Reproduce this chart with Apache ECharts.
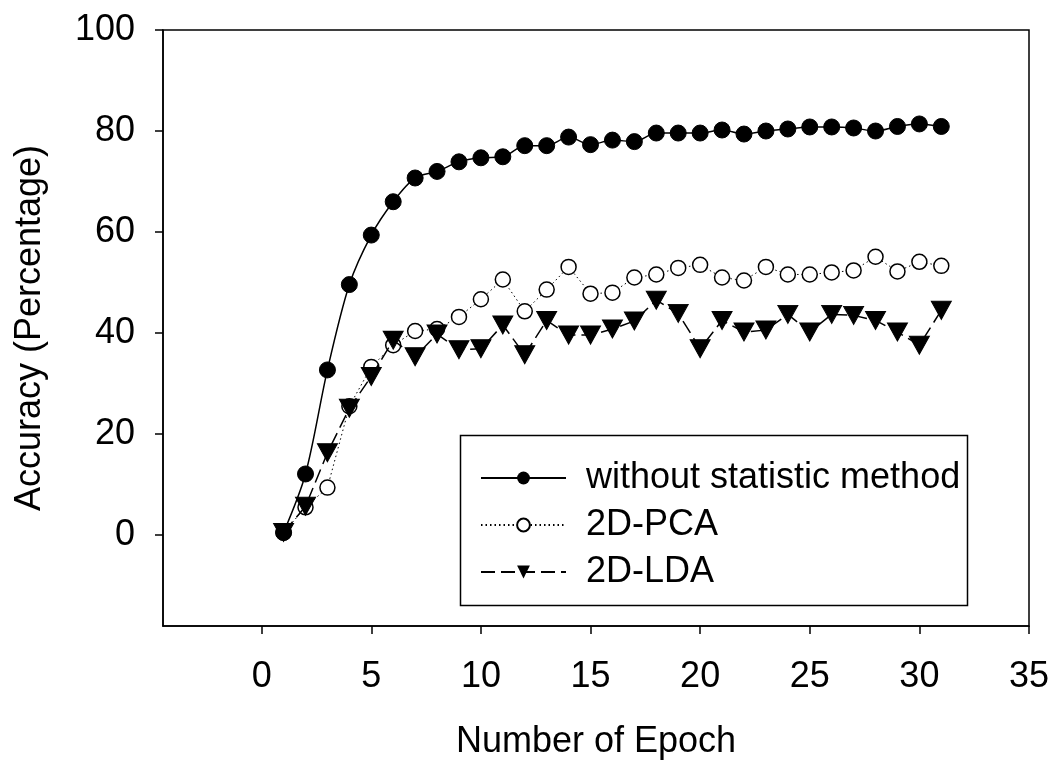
<!DOCTYPE html>
<html>
<head>
<meta charset="utf-8">
<script src="https://cdn.jsdelivr.net/npm/echarts@6/dist/echarts.min.js"></script>
<style>html,body{margin:0;padding:0;background:#fff}#c{width:1053px;height:765px}</style>
</head>
<body>
<div id="c"></div>
<script>
var epochs = [1,2,3,4,5,6,7,8,9,10,11,12,13,14,15,16,17,18,19,20,21,22,23,24,25,26,27,28,29,30,31];
var withoutStat = [0.5,12.1,32.7,49.6,59.4,66.0,70.7,72.0,73.9,74.7,74.9,77.1,77.1,78.8,77.3,78.2,77.9,79.6,79.6,79.6,80.2,79.4,80.0,80.4,80.8,80.8,80.6,80.0,80.9,81.4,80.9];
var pca2d = [0.5,5.5,9.4,25.5,33.3,37.6,40.4,40.8,43.2,46.7,50.6,44.3,48.6,53.1,47.8,48.0,51.0,51.6,52.9,53.5,51.0,50.4,53.1,51.6,51.6,52.0,52.4,55.1,52.2,54.1,53.3];
var lda2d = [0.5,5.7,16.3,25.1,31.4,38.6,35.3,39.8,36.7,36.9,41.6,35.7,42.5,39.6,39.6,40.8,42.4,46.5,43.9,36.9,42.5,40.2,40.6,43.7,40.2,43.7,43.5,42.5,40.2,37.6,44.5];
var xTicks = [0,5,10,15,20,25,30,35];
var yTicks = [0,20,40,60,80,100];
var seriesNames = ['without statistic method','2D-PCA','2D-LDA'];

function pairs(ys){ return epochs.map(function(x,i){ return [x, ys[i]]; }); }

var font = 'Liberation Sans, Arial, sans-serif';
var chart = echarts.init(document.getElementById('c'), null, {renderer:'canvas'});
chart.setOption({
  backgroundColor:'#fff',
  animation:false,
  grid:{left:163, right:24, top:30, bottom:133, show:true, borderColor:'#000', borderWidth:1.5, backgroundColor:'transparent'},
  xAxis:{
    type:'value', min:-4.5, max:35,
    name:'Number of Epoch', nameLocation:'middle', nameGap:98,
    nameTextStyle:{fontFamily:font, fontSize:36, color:'#000'},
    axisLine:{show:true, onZero:false, lineStyle:{color:'#000', width:1.5}},
    axisTick:{show:true, length:8, lineStyle:{color:'#000', width:1.5}, customValues:xTicks},
    axisLabel:{fontFamily:font, fontSize:36, color:'#000', margin:33, customValues:xTicks},
    splitLine:{show:false}
  },
  yAxis:{
    type:'value', min:-18, max:100,
    name:'Accuracy (Percentage)', nameLocation:'middle', nameGap:115, nameRotate:90,
    nameTextStyle:{fontFamily:font, fontSize:36, color:'#000'},
    axisLine:{show:true, onZero:false, lineStyle:{color:'#000', width:1.5}},
    axisTick:{show:true, length:8, lineStyle:{color:'#000', width:1.5}, customValues:yTicks},
    axisLabel:{fontFamily:font, fontSize:36, color:'#000', margin:28, customValues:yTicks},
    splitLine:{show:false}
  },
  legend:{
    orient:'vertical', left:475, top:453,
    itemWidth:85, itemHeight:16, itemGap:7,
    data:seriesNames,
    textStyle:{fontFamily:font, fontSize:36, color:'#000', lineHeight:40, padding:[0,0,0,15]}
  },
  graphic:[{type:'rect', left:458, top:433, shape:{width:507, height:170}, style:{fill:'none', stroke:'#000', lineWidth:1.5}, z:10}],
  series:[
    {name:seriesNames[0], type:'line', data:pairs(withoutStat), smooth:0.3,
     symbol:'circle', symbolSize:16, itemStyle:{color:'#000', borderColor:'#000'},
     lineStyle:{color:'#000', width:1.5, type:'solid'}, z:3},
    {name:seriesNames[1], type:'line', data:pairs(pca2d),
     symbol:'circle', symbolSize:15, itemStyle:{color:'#fff', borderColor:'#000', borderWidth:1.5},
     lineStyle:{color:'#000', width:1, type:[1.5,3]}, z:2},
    {name:seriesNames[2], type:'line', data:pairs(lda2d),
     symbol:'triangle', symbolRotate:180, symbolSize:[20,18], itemStyle:{color:'#000', borderColor:'#000'},
     lineStyle:{color:'#000', width:1.5, type:[14,6]}, z:4}
  ]
});
</script>
</body>
</html>
